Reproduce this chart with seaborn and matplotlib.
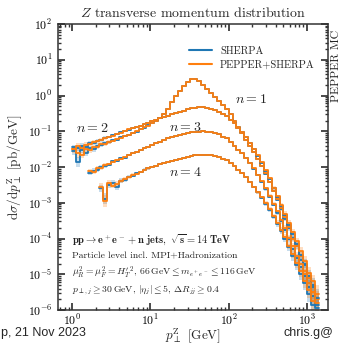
import numpy as np
import pandas as pd
import matplotlib
matplotlib.use("Agg")
import matplotlib.pyplot as plt
from matplotlib.lines import Line2D
import seaborn as sns

nan = np.nan

# log10(pT / GeV) bin edges: 1 GeV up to ~1.4 TeV, 20 bins per decade
LOG_EDGES = np.linspace(0.0, 3.15, 64)

GENERATORS = ["Sherpa", "Pepper+Sherpa"]
COLORS = {"Sherpa": "#1f77b4", "Pepper+Sherpa": "#ff7f0e"}

# log10(dsigma/dpT [pb/GeV]) per bin
n1_sherpa = [-1.56, -1.85, -1.52, -1.60, -1.47, -1.50, -1.40, -1.38, -1.33, -1.31,
             -1.25, -1.24, -1.17, -1.14, -1.10, -1.05, -1.01, -0.94, -0.90, -0.83,
             -0.77, -0.71, -0.63, -0.52, -0.37, -0.19, -0.02, 0.14, 0.28, 0.39,
             0.46, 0.46, 0.40, 0.30, 0.18, 0.06, -0.05, -0.16, -0.27, -0.39,
             -0.53, -0.71, -0.88, -1.06, -1.23, -1.41, -1.59, -1.78, -1.98, -2.19,
             -2.42, -2.67, -2.92, -3.17, -3.44, -3.71, -3.98, -4.20, -4.60, -4.75,
             -5.25, -5.35, -5.85]
n1_pepper = [-1.50, -1.60, -1.66, -1.49, -1.53, -1.44, -1.43, -1.36, -1.35, -1.30,
             -1.27, -1.22, -1.18, -1.13, -1.11, -1.05, -1.00, -0.95, -0.89, -0.84,
             -0.77, -0.70, -0.63, -0.52, -0.37, -0.19, -0.02, 0.14, 0.28, 0.39,
             0.46, 0.46, 0.40, 0.30, 0.18, 0.06, -0.05, -0.16, -0.27, -0.39,
             -0.53, -0.71, -0.88, -1.06, -1.23, -1.41, -1.59, -1.77, -1.98, -2.18,
             -2.41, -2.66, -2.90, -3.15, -3.40, -3.68, -4.02, -4.22, -4.50, -4.90,
             -5.10, -5.50, -5.70]
n1_err = [0.10, 0.14, 0.09, 0.09, 0.07, 0.07, 0.06, 0.06, 0.05, 0.05,
          0.04, 0.04, 0.03, 0.03, 0.03, 0.02, 0.02, 0.02, 0.02, 0.02,
          0.01, 0.01, 0.01, 0.01, 0.01, 0.01, 0.01, 0.01, 0.01, 0.01,
          0.01, 0.01, 0.01, 0.01, 0.01, 0.01, 0.01, 0.01, 0.01, 0.01,
          0.01, 0.01, 0.01, 0.01, 0.01, 0.01, 0.02, 0.02, 0.02, 0.03,
          0.03, 0.04, 0.04, 0.05, 0.06, 0.07, 0.08, 0.09, 0.11, 0.13,
          0.16, 0.19, 0.24]

n2_sherpa = [-1.45, -1.48, -1.40, -1.44, -1.33, -1.32, -1.26, -1.25, -1.18, -1.17,
             -1.11, -1.08, -1.03, -0.99, -0.96, -0.91, -0.88, -0.84, -0.80, -0.76,
             -0.72, -0.68, -0.64, -0.60, -0.56, -0.52, -0.48, -0.45, -0.42, -0.39,
             -0.36, -0.35, -0.33, -0.33, -0.35, -0.37, -0.41, -0.45, -0.52, -0.58,
             -0.68, -0.78, -0.91, -1.03, -1.17, -1.32, -1.49, -1.68, -1.88, -2.10,
             -2.34, -2.60, -2.85, -3.10, -3.35, -3.62, -3.88, -4.15, -4.45, -4.70,
             -5.05, -5.30, -5.65]
n2_pepper = [-1.50, -1.41, -1.46, -1.37, -1.36, -1.30, -1.28, -1.23, -1.20, -1.16,
             -1.12, -1.07, -1.04, -0.99, -0.95, -0.92, -0.87, -0.84, -0.80, -0.76,
             -0.72, -0.68, -0.64, -0.60, -0.56, -0.52, -0.48, -0.45, -0.42, -0.39,
             -0.36, -0.35, -0.33, -0.33, -0.35, -0.37, -0.41, -0.45, -0.52, -0.58,
             -0.68, -0.78, -0.91, -1.03, -1.17, -1.32, -1.49, -1.67, -1.87, -2.08,
             -2.32, -2.58, -2.82, -3.06, -3.30, -3.56, -3.82, -4.08, -4.35, -4.62,
             -4.95, -5.20, -5.55]
n2_err = [0.07, 0.07, 0.06, 0.06, 0.05, 0.05, 0.04, 0.04, 0.04, 0.03,
          0.03, 0.03, 0.02, 0.02, 0.02, 0.02, 0.02, 0.01, 0.01, 0.01,
          0.01, 0.01, 0.01, 0.01, 0.01, 0.01, 0.01, 0.01, 0.01, 0.01,
          0.01, 0.01, 0.01, 0.01, 0.01, 0.01, 0.01, 0.01, 0.01, 0.01,
          0.01, 0.01, 0.01, 0.01, 0.01, 0.01, 0.02, 0.02, 0.02, 0.03,
          0.03, 0.04, 0.04, 0.05, 0.06, 0.07, 0.08, 0.09, 0.11, 0.13,
          0.16, 0.19, 0.24]

n3_sherpa = [nan, nan, nan, nan, -2.16, -2.10, -2.07, -2.00, -1.97, -1.93,
             -1.84, -1.83, -1.76, -1.74, -1.65, -1.62, -1.58, -1.52, -1.48, -1.43,
             -1.38, -1.34, -1.29, -1.25, -1.20, -1.16, -1.13, -1.10, -1.08, -1.05,
             -1.03, -1.02, -1.01, -1.00, -1.01, -1.02, -1.05, -1.08, -1.15, -1.20,
             -1.31, -1.40, -1.51, -1.62, -1.75, -1.89, -2.05, -2.23, -2.42, -2.62,
             -2.83, -3.05, -3.28, -3.52, -3.77, -4.02, -4.28, -4.55, -4.80, -5.05,
             -5.35, -5.60, -5.95]
n3_pepper = [nan, nan, nan, nan, -2.12, -2.13, -2.04, -2.02, -1.95, -1.92,
             -1.86, -1.81, -1.77, -1.72, -1.66, -1.61, -1.57, -1.53, -1.47, -1.43,
             -1.38, -1.34, -1.29, -1.25, -1.20, -1.16, -1.13, -1.10, -1.08, -1.05,
             -1.03, -1.02, -1.01, -1.00, -1.01, -1.02, -1.05, -1.08, -1.15, -1.20,
             -1.31, -1.40, -1.51, -1.62, -1.75, -1.89, -2.04, -2.22, -2.40, -2.60,
             -2.80, -3.02, -3.24, -3.48, -3.70, -3.98, -4.22, -4.48, -4.72, -5.00,
             -5.25, -5.50, -5.80]
n3_err = [nan, nan, nan, nan, 0.07, 0.06, 0.06, 0.05, 0.05, 0.04,
          0.04, 0.03, 0.03, 0.03, 0.02, 0.02, 0.02, 0.02, 0.01, 0.01,
          0.01, 0.01, 0.01, 0.01, 0.01, 0.01, 0.01, 0.01, 0.01, 0.01,
          0.01, 0.01, 0.01, 0.01, 0.01, 0.01, 0.01, 0.01, 0.01, 0.01,
          0.01, 0.01, 0.01, 0.01, 0.02, 0.02, 0.02, 0.03, 0.03, 0.04,
          0.04, 0.05, 0.05, 0.06, 0.07, 0.08, 0.09, 0.11, 0.13, 0.15,
          0.18, 0.22, 0.26]

n4_sherpa = [nan, nan, nan, nan, nan, nan, nan, -2.60, -2.88, -2.50,
             -2.45, -2.55, -2.38, -2.36, -2.27, -2.24, -2.18, -2.15, -2.07, -2.04,
             -1.99, -1.97, -1.92, -1.89, -1.86, -1.82, -1.79, -1.77, -1.74, -1.72,
             -1.69, -1.67, -1.66, -1.65, -1.65, -1.66, -1.69, -1.72, -1.77, -1.81,
             -1.90, -1.98, -2.07, -2.17, -2.29, -2.42, -2.56, -2.71, -2.86, -3.03,
             -3.21, -3.40, -3.60, -3.80, -4.02, -4.25, -4.50, -4.75, -5.00, -5.25,
             -5.55, -5.85, nan]
n4_pepper = [nan, nan, nan, nan, nan, nan, nan, -2.55, -2.95, -2.45,
             -2.52, -2.48, -2.40, -2.33, -2.29, -2.22, -2.19, -2.13, -2.08, -2.04,
             -1.99, -1.97, -1.92, -1.89, -1.86, -1.82, -1.79, -1.77, -1.74, -1.72,
             -1.69, -1.67, -1.66, -1.65, -1.65, -1.66, -1.69, -1.72, -1.77, -1.81,
             -1.90, -1.98, -2.07, -2.17, -2.29, -2.42, -2.55, -2.70, -2.84, -3.00,
             -3.18, -3.36, -3.56, -3.76, -3.96, -4.20, -4.42, -4.68, -4.92, -5.18,
             -5.45, -5.75, nan]
n4_err = [nan, nan, nan, nan, nan, nan, nan, 0.10, 0.16, 0.09,
          0.08, 0.08, 0.06, 0.06, 0.05, 0.04, 0.04, 0.03, 0.03, 0.03,
          0.02, 0.02, 0.02, 0.02, 0.01, 0.01, 0.01, 0.01, 0.01, 0.01,
          0.01, 0.01, 0.01, 0.01, 0.01, 0.01, 0.01, 0.01, 0.01, 0.01,
          0.01, 0.02, 0.02, 0.02, 0.02, 0.03, 0.03, 0.04, 0.04, 0.05,
          0.05, 0.06, 0.07, 0.08, 0.09, 0.10, 0.12, 0.14, 0.16, 0.19,
          0.22, 0.26, nan]

CURVES = {
    1: (n1_sherpa, n1_pepper, n1_err),
    2: (n2_sherpa, n2_pepper, n2_err),
    3: (n3_sherpa, n3_pepper, n3_err),
    4: (n4_sherpa, n4_pepper, n4_err),
}

# (label, pT position, y position) of the multiplicity labels
N_LABELS = [("$n = 1$", 190.0, 0.75), ("$n = 2$", 1.8, 0.12),
            ("$n = 3$", 28.0, 0.13), ("$n = 4$", 28.0, 0.0072)]


def step_frame(logy, err, gen):
    """Turn per-bin values into step vertices (left edges + final right edge)."""
    logy = np.asarray(logy, dtype=float)
    err = np.asarray(err, dtype=float)
    ok = np.where(~np.isnan(logy))[0]
    idx = np.append(ok, ok[-1])
    x = 10 ** np.append(LOG_EDGES[ok], LOG_EDGES[ok[-1] + 1])
    y = logy[idx]
    e = err[idx]
    return pd.DataFrame({"pt": x, "xs": 10 ** y, "lo": 10 ** (y - e),
                         "hi": 10 ** (y + e), "generator": gen})


sns.set_theme(style="ticks")
plt.rcParams.update({
    "font.family": "serif",
    "font.serif": ["cmr10", "DejaVu Serif"],
    "mathtext.fontset": "cm",
    "axes.formatter.use_mathtext": True,
    "axes.edgecolor": "#333333",
    "axes.linewidth": 1.1,
    "xtick.direction": "in", "ytick.direction": "in",
    "xtick.top": True, "ytick.right": True,
    "xtick.major.size": 5, "ytick.major.size": 5,
    "xtick.minor.size": 2.5, "ytick.minor.size": 2.5,
    "xtick.minor.visible": True, "ytick.minor.visible": True,
    "xtick.color": "#333333", "ytick.color": "#333333",
    "xtick.labelcolor": "black", "ytick.labelcolor": "black",
})

fig = plt.figure(figsize=(3.41, 3.48), dpi=100)
ax = fig.add_axes([0.170, 0.109, 0.792, 0.822])

for n, (sh, pe, err) in CURVES.items():
    df = pd.concat([step_frame(sh, err, "Sherpa"),
                    step_frame(pe, err, "Pepper+Sherpa")], ignore_index=True)
    for gen in GENERATORS:
        d = df[df["generator"] == gen]
        ax.fill_between(d["pt"], d["lo"], d["hi"], step="post",
                        color=COLORS[gen], alpha=0.25, lw=0)
    sns.lineplot(data=df, x="pt", y="xs", hue="generator",
                 hue_order=GENERATORS, palette=COLORS, estimator=None,
                 sort=False, drawstyle="steps-post", lw=1.3,
                 legend=False, ax=ax)

ax.set_xscale("log")
ax.set_yscale("log")
ax.set_xlim(0.66, 1860)
ax.set_ylim(1e-6, 1e2)
ax.tick_params(axis="y", labelsize=8.5, pad=4)
ax.tick_params(axis="x", labelsize=8.5, pad=2)
ax.set_xlabel(r"$p_\perp^\mathrm{Z}$ [GeV]", fontsize=9.5, labelpad=-1)
ax.set_ylabel(r"$\mathrm{d}\sigma/\mathrm{d}p_\perp^\mathrm{Z}$ [pb/GeV]",
              fontsize=9.5, labelpad=3)
ax.set_title(r"$Z$ transverse momentum distribution", fontsize=10, pad=5)

for text, px, py in N_LABELS:
    ax.text(px, py, text, fontsize=10, ha="center", va="center")

handles = [Line2D([], [], color=COLORS[g], lw=1.5) for g in GENERATORS]
ax.legend(handles, ["SHERPA", "PEPPER+SHERPA"], loc="upper left",
          bbox_to_anchor=(0.45, 0.955), frameon=False, fontsize=7.5,
          handlelength=2.2, handletextpad=0.8, labelspacing=0.45)

info = [
    (0.245, r"$\mathbf{pp \rightarrow e^+e^- + n\ jets,\ \sqrt{s} = 14\ TeV}$", 7.5),
    (0.189, "Particle level incl. MPI+Hadronization", 7),
    (0.129, r"$\mu_R^2 = \mu_F^2 = H_T'^2$, $66\,\mathrm{GeV} \leq m_{e^+e^-} \leq 116\,\mathrm{GeV}$", 7),
    (0.070, r"$p_{\perp,j} \geq 30\,\mathrm{GeV}$, $|\eta_j| \leq 5$, $\Delta R_{jj} \geq 0.4$", 7),
]
for ypos, text, size in info:
    ax.text(0.052, ypos, text, transform=ax.transAxes, fontsize=size,
            ha="left", va="center", color="#222222")

fig.text(0.985, 0.707, "PEPPER MC", rotation=90, ha="center", va="bottom",
         fontsize=8.5, color="#222222")
fig.text(0.002, 0.043, "p, 21 Nov 2023", ha="left", va="center",
         fontsize=9, family="Liberation Sans")
fig.text(0.830, 0.043, "chris.g@", ha="left", va="center",
         fontsize=9, family="Liberation Sans")

fig.savefig("out.png", dpi=100)
